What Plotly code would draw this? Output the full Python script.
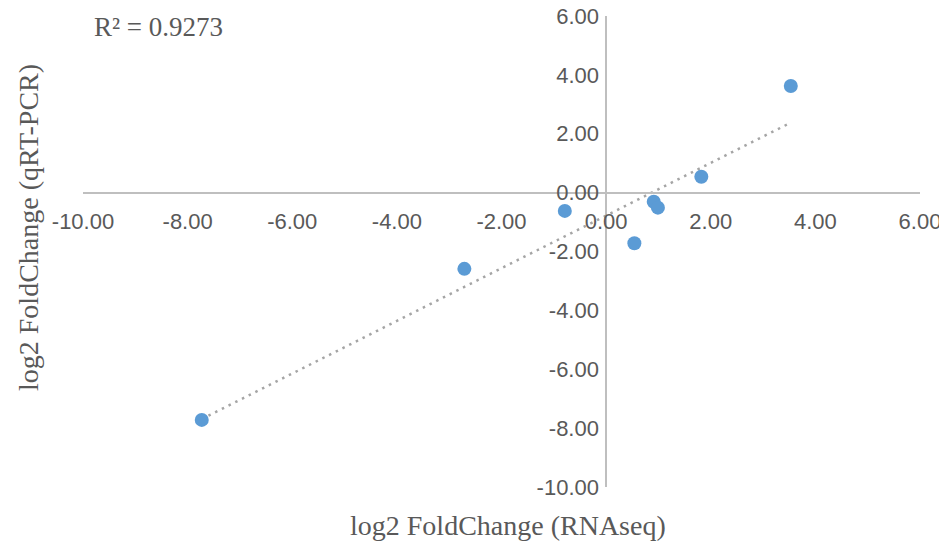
import numpy as np
import plotly.graph_objects as go

rnaseq = [3.53, 1.82, 0.91, 0.99, 0.54, -0.79, -2.71, -7.73]
qpcr = [3.62, 0.54, -0.31, -0.51, -1.72, -0.62, -2.59, -7.72]
r2_text = "R² = 0.9273"
x_title = "log2 FoldChange (RNAseq)"
y_title = "log2 FoldChange (qRT-PCR)"
tick_vals = [-10, -8, -6, -4, -2, 0, 2, 4, 6]
tick_text = ["-10.00", "-8.00", "-6.00", "-4.00", "-2.00", "0.00", "2.00", "4.00", "6.00"]

# linear trendline (least squares) spanning the data range
slope, intercept = np.polyfit(rnaseq, qpcr, 1)
tx = [min(rnaseq), max(rnaseq)]
ty = [slope * v + intercept for v in tx]

fig = go.Figure()
fig.add_trace(go.Scatter(x=tx, y=ty, mode="lines",
                         line=dict(color="#A5A5A5", width=2.5, dash="2.5px,5px"),
                         hoverinfo="skip", showlegend=False))
fig.add_trace(go.Scatter(x=rnaseq, y=qpcr, mode="markers",
                         marker=dict(color="#5B9BD5", size=14),
                         showlegend=False))

# page body has an 8px default margin; size the figure so the plot area
# lands at x 83..920, y 16..487 in the window
OFF = 8
tickfont = dict(family="Liberation Sans", size=22, color="#595959")
fig.update_layout(
    width=947 - OFF, height=546 - OFF,
    margin=dict(l=83 - OFF, r=27, t=16 - OFF, b=59, autoexpand=False),
    paper_bgcolor="white", plot_bgcolor="white",
    xaxis=dict(range=[-10, 6], tickvals=tick_vals, ticktext=tick_text,
               showgrid=False, zeroline=False, showline=True,
               linecolor="#BFBFBF", linewidth=1.5, automargin=False,
               anchor="free", position=0.625, ticks="", ticklabelstandoff=9,
               ticklabeloverflow="allow", tickfont=tickfont),
    yaxis=dict(range=[-10, 6], tickvals=tick_vals, ticktext=tick_text,
               showgrid=False, zeroline=False, showline=True,
               linecolor="#BFBFBF", linewidth=1.5, automargin=False,
               anchor="free", position=0.625, ticks="", ticklabelstandoff=2,
               ticklabeloverflow="allow", tickfont=tickfont),
    font=dict(family="Liberation Serif"),
)

fig.add_annotation(text=r2_text, xref="paper", yref="paper",
                   x=(92 - 83) / 837, y=(487 - 27) / 471, xanchor="left", yanchor="middle",
                   showarrow=False, font=dict(family="Liberation Serif", size=27, color="#595959"))
fig.add_annotation(text=x_title, xref="paper", yref="paper",
                   x=(508 - 83) / 837, y=(487 - 525) / 471, xanchor="center", yanchor="middle",
                   showarrow=False, font=dict(family="Liberation Serif", size=28, color="#595959"))
fig.add_annotation(text=y_title, xref="paper", yref="paper", textangle=-90,
                   x=(28 - 83) / 837, y=(487 - 228) / 471, xanchor="center", yanchor="middle",
                   showarrow=False, font=dict(family="Liberation Serif", size=28, color="#595959"))

fig.write_html("out.html")
